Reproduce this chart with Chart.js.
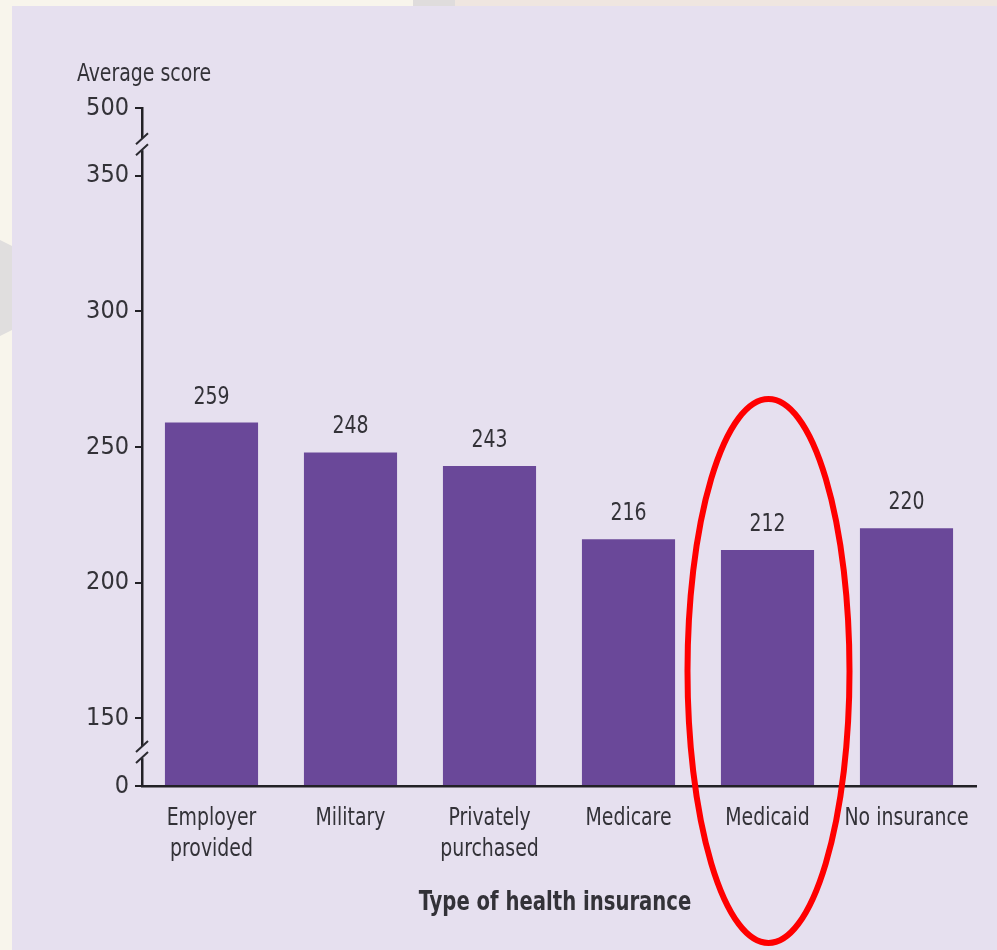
<!DOCTYPE html>
<html>
<head>
<meta charset="utf-8">
<script src="https://cdn.jsdelivr.net/npm/chart.js@4"></script>
<style>
  body { margin: 0; background: #f8f5ec; }
  canvas { display: block; }
</style>
</head>
<body>
<canvas id="chart" width="997" height="950"></canvas>
<script>
// data
const categories = [["Employer", "provided"], "Military", ["Privately", "purchased"], "Medicare", "Medicaid", "No insurance"];
const scores = [259, 248, 243, 216, 212, 220];
const yTickLabels = [0, 150, 200, 250, 300, 350, 500];
const yTitle = "Average score";
const xTitle = "Type of health insurance";

const FONT = "'DejaVu Sans Condensed', 'DejaVu Sans', sans-serif";
const TEXT = "#333238";
const SQUEEZE = 0.84; // the original type is a narrow face

// broken axis: 0-150 squeezed, 150-350 linear, 350-500 squeezed
const toDisplay = (v) => {
  if (v <= 150) return v / 150 * 25;
  if (v <= 350) return 25 + (v - 150);
  return 225 + (v - 350) / 150 * 25;
};
const fromDisplay = (d) => {
  if (d <= 25) return d / 25 * 150;
  if (d <= 225) return d - 25 + 150;
  return 350 + (d - 225) / 25 * 150;
};

// text drawn narrower than the installed fonts allow
const narrowText = (ctx, txt, x, y) => {
  ctx.save();
  ctx.translate(x, y);
  ctx.scale(SQUEEZE, 1);
  ctx.fillText(txt, 0, 0);
  ctx.restore();
};

// page backdrop, labels, axis breaks, titles and the red ring
const decorations = {
  id: "decorations",
  beforeDraw(chart) {
    const ctx = chart.ctx;
    ctx.save();
    ctx.fillStyle = "#f8f5ec";
    ctx.fillRect(0, 0, 997, 950);
    ctx.fillStyle = "#dfdcdc";
    ctx.fillRect(413, 0, 42, 6);
    ctx.fillStyle = "#efe6e0";
    ctx.fillRect(455, 0, 542, 6);
    ctx.fillStyle = "#e0dede";
    ctx.beginPath();
    ctx.moveTo(0, 240); ctx.lineTo(12, 246); ctx.lineTo(12, 330); ctx.lineTo(0, 336);
    ctx.fill();
    ctx.fillStyle = "#e6e0ef";
    ctx.fillRect(12, 6, 985, 944);
    ctx.restore();
  },
  afterDraw(chart) {
    const ctx = chart.ctx;
    const x = chart.scales.x, y = chart.scales.y;
    ctx.save();
    ctx.fillStyle = TEXT;
    ctx.textAlign = "center";
    ctx.textBaseline = "alphabetic";
    ctx.font = "25px " + FONT;
    chart.getDatasetMeta(0).data.forEach((bar, i) => {
      narrowText(ctx, String(scores[i]), bar.x, bar.y - 19);
    });

    // category labels under the axis
    ctx.font = "25px " + FONT;
    categories.forEach((c, i) => {
      const lines = Array.isArray(c) ? c : [c];
      const px = x.getPixelForValue(i);
      lines.forEach((ln, j) => {
        narrowText(ctx, ln, px, chart.chartArea.bottom + 39 + j * 31);
      });
    });

    // axis break marks
    const ax = chart.chartArea.left;
    [y.getPixelForValue(toDisplay(420)), y.getPixelForValue(toDisplay(75))].forEach((py) => {
      ctx.fillStyle = "#e6e0ef";
      ctx.fillRect(ax - 3, py - 6, 6, 12);
      ctx.strokeStyle = "#2b2a30";
      ctx.lineWidth = 2;
      ctx.beginPath();
      ctx.moveTo(ax - 6, py + 0); ctx.lineTo(ax + 6, py - 11);
      ctx.moveTo(ax - 6, py + 11); ctx.lineTo(ax + 6, py - 0);
      ctx.stroke();
    });

    // titles
    ctx.fillStyle = TEXT;
    ctx.textAlign = "left";
    ctx.font = "25px " + FONT;
    narrowText(ctx, yTitle, 77, 81);
    ctx.textAlign = "center";
    ctx.font = "bold 26px " + FONT;
    narrowText(ctx, xTitle, 555, 910);

    // red ellipse around Medicaid
    const cx = x.getPixelForValue(4);
    ctx.strokeStyle = "#ff0000";
    ctx.lineWidth = 6;
    ctx.beginPath();
    ctx.ellipse(cx + 1, 671, 81, 272, 0, 0, Math.PI * 2);
    ctx.stroke();
    ctx.restore();
  }
};

const ctx = document.getElementById("chart").getContext("2d");
const myChart = new Chart(ctx, {
  type: "bar",
  data: {
    labels: categories,
    datasets: [{
      data: scores.map(toDisplay),
      backgroundColor: "#6a4899",
      borderWidth: 0,
      barPercentage: 0.67,
      categoryPercentage: 1,
    }],
  },
  options: {
    responsive: false,
    animation: false,
    layout: { padding: { left: 12, right: 21, top: 108, bottom: 44 } },
    plugins: { legend: { display: false }, tooltip: { enabled: false } },
    scales: {
      x: {
        grid: { display: false },
        border: { display: true, color: "#222126", width: 2.5 },
        ticks: { display: false },
        afterFit: (scale) => { scale.height = 120; },
      },
      y: {
        min: 0,
        max: 250,
        afterBuildTicks: (scale) => {
          scale.ticks = yTickLabels.map((v) => ({ value: toDisplay(v) }));
        },
        ticks: {
          color: TEXT,
          font: { family: FONT, size: 25 },
          padding: 6,
          callback: (d) => String(Math.round(fromDisplay(d))),
        },
        grid: { drawOnChartArea: false, drawTicks: true, tickLength: 7, color: "#222126", lineWidth: 2 },
        border: { display: true, color: "#222126", width: 2.5 },
        afterFit: (scale) => { scale.width = 130; },
      },
    },
  },
  plugins: [decorations],
});
</script>
</body>
</html>
